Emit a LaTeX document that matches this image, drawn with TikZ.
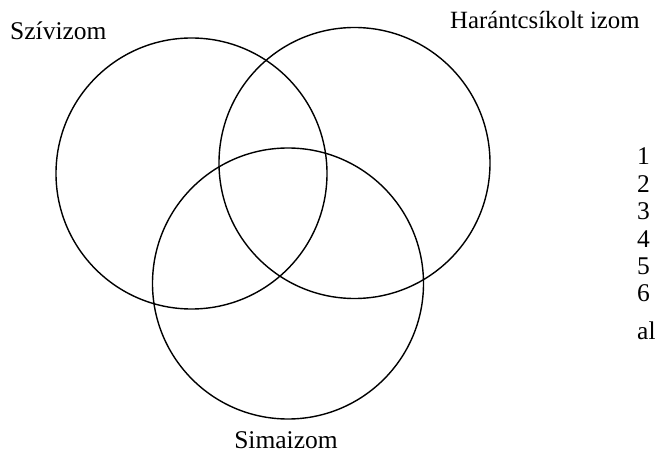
\documentclass[tikz,border=0pt]{standalone}
\usepackage{fontspec}
\setmainfont{Liberation Serif}
\begin{document}
\begin{tikzpicture}[x=1pt,y=1pt,
  venn/.style={draw=black,line width=1.4pt},
  lbl/.style={inner sep=0pt,font=\fontsize{25.5}{30}\selectfont},
  num/.style={inner sep=0pt,anchor=base west,font=\fontsize{25.5}{30}\selectfont}]
\useasboundingbox (0,0) rectangle (655,463);
\draw[venn] (191.5,289.5) circle (135.5);
\draw[venn] (354.5,300) circle (135.5);
\draw[venn] (288,179.5) circle (135.5);
\node[lbl,anchor=base west] (sz) at (10,423) {Szívizom};
\node[lbl,anchor=base west,font=\fontsize{24.8}{30}\selectfont] (ha) at (450,434) {Harántcsíkolt izom};
\node[lbl,anchor=base] (si) at (286,15) {Simaizom};
\node[num] (n1) at (637,298) {1};
\node[num] (n2) at (637,270.6) {2};
\node[num] (n3) at (637,243.2) {3};
\node[num] (n4) at (637,215.8) {4};
\node[num] (n5) at (637,188.4) {5};
\node[num] (n6) at (637,161) {6};
\node[num] (n7) at (637,124) {al};
\end{tikzpicture}
\end{document}
